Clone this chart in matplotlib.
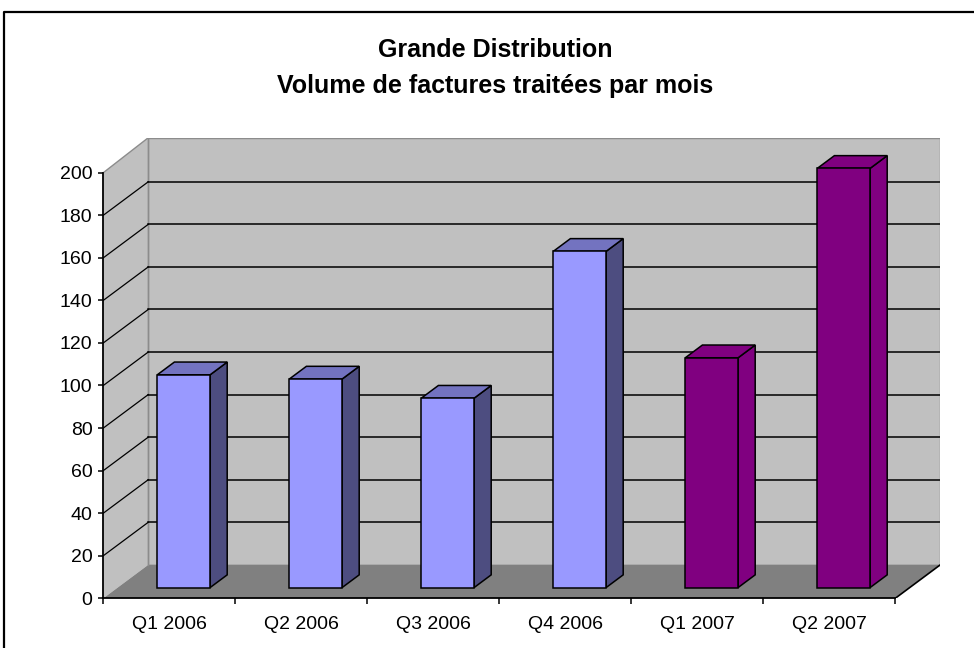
import matplotlib
matplotlib.use("Agg")
import matplotlib.pyplot as plt
from matplotlib.patches import Polygon
from matplotlib.lines import Line2D

# ---------------- data ----------------
categories = ["Q1 2006", "Q2 2006", "Q3 2006", "Q4 2006", "Q1 2007", "Q2 2007"]
values = [100, 98, 89, 158, 108, 197]
yticks = [0, 20, 40, 60, 80, 100, 120, 140, 160, 180, 200]
title_line1 = "Grande Distribution"
title_line2 = "Volume de factures traitées par mois"

# ---------------- style ----------------
plt.rcParams['font.family'] = ['Liberation Sans', 'DejaVu Sans']
front_colors = ["#9999FF"] * 4 + ["#800080"] * 2
top_colors = ["#7373C0"] * 4 + ["#800080"] * 2
side_colors = ["#4D4D80"] * 4 + ["#800080"] * 2
WALL = "#C0C0C0"
FLOOR = "#808080"
EDGE_GRAY = "#8C8C8C"

W, H = 974, 648
fig = plt.figure(figsize=(W / 100, H / 100), dpi=100)

n = len(categories)
ymax = yticks[-1]
PX_X = 132.0      # px per category
PX_Y = 2.128      # px per value unit
DX = 45.0 / PX_X  # depth offset (category units)
DY = 33.5 / PX_Y  # depth offset (value units)
TOPX = 1.5 / PX_Y  # small extra height of wall above top gridline
F0, F1 = 0.32, 0.70  # bar depth range (fraction of full depth)
HALF = 0.2

left_px, bottom_px = 103.3, 598.3
ax = fig.add_axes([left_px / W, (H - bottom_px) / H,
                   (n + DX) * PX_X / W, (ymax + DY + TOPX) * PX_Y / H])
ax.set_xlim(0, n + DX)
ax.set_ylim(0, ymax + DY + TOPX)
ax.patch.set_visible(False)

wall_top = ymax + DY + TOPX
# walls & floor
ax.add_patch(Polygon([(0, 0), (DX, DY), (DX, wall_top), (0, ymax)],
                     closed=True, fc=WALL, ec="none", zorder=0))
ax.add_patch(Polygon([(DX, DY), (n + DX, DY), (n + DX, wall_top), (DX, wall_top)],
                     closed=True, fc=WALL, ec=EDGE_GRAY, lw=1.0, zorder=0))
ax.add_patch(Polygon([(0, 0), (n, 0), (n + DX, DY), (DX, DY)],
                     closed=True, fc=FLOOR, ec="none", zorder=0.5))
ax.plot([0, DX], [ymax, wall_top], color=EDGE_GRAY, lw=1.0, zorder=1)
ax.plot([DX, DX], [DY, wall_top], color=EDGE_GRAY, lw=1.0, zorder=1)
ax.plot([n, n + DX], [0, DY], color="black", lw=1.2, zorder=2, solid_capstyle="butt")

# gridlines
for v in yticks[1:-1]:
    ax.plot([DX, n + DX], [v + DY, v + DY], color="black", lw=1.1, zorder=1.5)
    ax.plot([0, DX], [v, v + DY], color="black", lw=0.9, zorder=1.5)

# bars
ox = (F1 - F0) * DX
oy = (F1 - F0) * DY
for i, v in enumerate(values):
    x0 = i + 0.5 - HALF + F0 * DX
    x1 = i + 0.5 + HALF + F0 * DX
    yb = F0 * DY
    yt = yb + v
    kw = dict(closed=True, ec="black", lw=1.1, joinstyle="miter", zorder=3)
    ax.add_patch(Polygon([(x1, yb), (x1 + ox, yb + oy), (x1 + ox, yt + oy), (x1, yt)],
                         fc=side_colors[i], **kw))
    ax.add_patch(Polygon([(x0, yt), (x1, yt), (x1 + ox, yt + oy), (x0 + ox, yt + oy)],
                         fc=top_colors[i], **kw))
    ax.add_patch(Polygon([(x0, yb), (x1, yb), (x1, yt), (x0, yt)],
                         fc=front_colors[i], **kw))

# axes
for s in ("top", "right"):
    ax.spines[s].set_visible(False)
ax.spines["left"].set_bounds(0, ymax)
ax.spines["bottom"].set_bounds(0, n)
for s in ("left", "bottom"):
    ax.spines[s].set_color("black")
    ax.spines[s].set_linewidth(1.3)
    ax.spines[s].set_zorder(2.5)

ax.set_yticks(yticks)
ax.set_yticklabels([str(t) for t in yticks])
ax.tick_params(axis="y", length=3.8, width=1.1, pad=4.0, labelsize=14, colors="black")

ax.set_xticks(range(n + 1))
ax.set_xticklabels([""] * (n + 1))
ax.set_xticks([i + 0.5 for i in range(n)], minor=True)
ax.set_xticklabels(categories, minor=True)
ax.tick_params(axis="x", which="major", length=4.5, width=1.1, direction="out")
ax.tick_params(axis="x", which="minor", length=0, pad=12.5, labelsize=14)

# title
fig.text(495 / W, 1 - 57 / H, title_line1, ha="center", va="baseline",
         fontsize=18, fontweight="bold")
fig.text(495 / W, 1 - 93 / H, title_line2, ha="center", va="baseline",
         fontsize=18, fontweight="bold")

# chart border (top & left visible)
fig.add_artist(Line2D([4 / W, 4 / W, 1.0], [0.0, 1 - 12 / H, 1 - 12 / H],
                      transform=fig.transFigure, color="black", lw=1.6))

fig.savefig("out.png", dpi=100, facecolor="white")
